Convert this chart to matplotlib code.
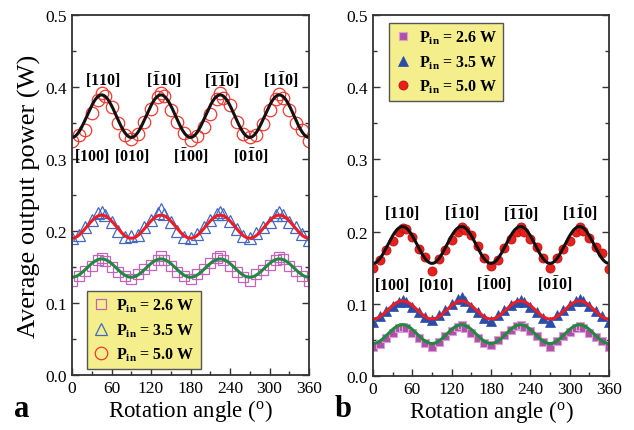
import numpy as np
import matplotlib
matplotlib.use("Agg")
import matplotlib.pyplot as plt
from matplotlib.ticker import MultipleLocator

plt.rcParams['font.family'] = ['Liberation Serif', 'DejaVu Serif']
plt.rcParams['mathtext.fontset'] = 'custom'
plt.rcParams['mathtext.rm'] = 'Liberation Serif'
plt.rcParams['mathtext.bf'] = 'Liberation Serif:bold'
plt.rcParams['mathtext.it'] = 'Liberation Serif:italic'

# ---------------- data ----------------
angles = [0, 10, 20, 30, 40, 45, 50, 60, 70, 80,
          90, 100, 110, 120, 130, 135, 140, 150, 160, 170,
          180, 190, 200, 210, 220, 225, 230, 240, 250, 260,
          270, 280, 290, 300, 310, 315, 320, 330, 340, 350, 360]

series_labels = ['2.6', '3.5', '5.0']

# panel a
a_p26 = [0.130, 0.138, 0.145, 0.152, 0.160, 0.163, 0.158, 0.150, 0.143, 0.138,
         0.133, 0.140, 0.147, 0.153, 0.160, 0.165, 0.160, 0.152, 0.143, 0.137,
         0.133, 0.140, 0.147, 0.155, 0.163, 0.165, 0.160, 0.152, 0.143, 0.136,
         0.131, 0.140, 0.146, 0.153, 0.160, 0.164, 0.161, 0.152, 0.145, 0.138, 0.130]
a_p35 = [0.190, 0.195, 0.205, 0.215, 0.225, 0.226, 0.222, 0.212, 0.200, 0.192,
         0.193, 0.195, 0.205, 0.215, 0.225, 0.230, 0.224, 0.213, 0.200, 0.192,
         0.190, 0.196, 0.205, 0.215, 0.223, 0.226, 0.224, 0.214, 0.203, 0.193,
         0.190, 0.197, 0.206, 0.212, 0.222, 0.226, 0.222, 0.212, 0.205, 0.196, 0.188]
a_p50 = [0.325, 0.333, 0.340, 0.364, 0.382, 0.392, 0.388, 0.372, 0.350, 0.333,
         0.328, 0.335, 0.352, 0.370, 0.386, 0.391, 0.388, 0.368, 0.352, 0.336,
         0.327, 0.332, 0.345, 0.362, 0.383, 0.392, 0.385, 0.375, 0.352, 0.335,
         0.330, 0.333, 0.348, 0.368, 0.383, 0.390, 0.385, 0.368, 0.350, 0.340, 0.325]

# panel b
b_p26 = [0.040, 0.045, 0.053, 0.060, 0.066, 0.068, 0.066, 0.060, 0.053, 0.046,
         0.040, 0.047, 0.055, 0.062, 0.068, 0.070, 0.067, 0.060, 0.052, 0.046,
         0.043, 0.050, 0.057, 0.064, 0.069, 0.071, 0.068, 0.062, 0.055, 0.047,
         0.040, 0.048, 0.055, 0.061, 0.067, 0.069, 0.066, 0.060, 0.054, 0.048, 0.040]
b_p35 = [0.075, 0.083, 0.090, 0.097, 0.103, 0.105, 0.102, 0.096, 0.088, 0.082,
         0.078, 0.084, 0.092, 0.100, 0.107, 0.109, 0.104, 0.096, 0.088, 0.080,
         0.076, 0.085, 0.092, 0.098, 0.103, 0.105, 0.102, 0.096, 0.088, 0.081,
         0.075, 0.084, 0.092, 0.099, 0.104, 0.106, 0.104, 0.097, 0.090, 0.083, 0.075]
b_p50 = [0.150, 0.160, 0.175, 0.187, 0.200, 0.205, 0.203, 0.192, 0.176, 0.165,
         0.146, 0.162, 0.175, 0.188, 0.200, 0.207, 0.202, 0.195, 0.180, 0.163,
         0.152, 0.160, 0.177, 0.190, 0.200, 0.206, 0.200, 0.190, 0.178, 0.163,
         0.150, 0.164, 0.176, 0.187, 0.200, 0.206, 0.201, 0.191, 0.178, 0.170, 0.148]

# fitted cos(4*theta) models: (offset, amplitude)
a_fit = {'2.6': (0.1485, 0.0127), '3.5': (0.206, 0.016), '5.0': (0.3595, 0.0295)}
b_fit = {'2.6': (0.058, 0.013), '3.5': (0.0915, 0.0125), '5.0': (0.1815, 0.0255)}

top_labels = [r'$\mathbf{[110]}$', r'$\mathbf{[\bar{1}10]}$',
              r'$\mathbf{[\overline{11}0]}$', r'$\mathbf{[1\bar{1}0]}$']
bot_labels = [r'$\mathbf{[100]}$', r'$\mathbf{[010]}$',
              r'$\mathbf{[\bar{1}00]}$', r'$\mathbf{[0\bar{1}0]}$']
a_top_x = [47, 139, 228, 317]
a_bot_x = [30, 91, 181, 272]
b_top_x = [44, 136, 226, 316]
b_bot_x = [28, 95, 184, 277]

# ---------------- figure ----------------
fig = plt.figure(figsize=(6.34, 4.31), dpi=100)
axa = fig.add_axes([72/634, 55/431, 237/634, 360/431])
axb = fig.add_axes([373/634, 54/431, 236/634, 361/431])

sq_col = '#C462BC'
tri_col = '#4469C0'
circ_col = '#EE3A32'
fit_cols = {'2.6': '#1E8B3E', '3.5': '#EE1C24', '5.0': '#111111'}

th = np.linspace(0, 360, 721)

def fit_curve(p):
    off, amp = p
    return off - amp * np.cos(np.deg2rad(4 * th))

# panel a
h1, = axa.plot(angles, a_p26, ls='none', marker='s', ms=7.5, mfc='none', mec=sq_col, mew=0.9)
h2, = axa.plot(angles, a_p35, ls='none', marker='^', ms=9, mfc='none', mec=tri_col, mew=0.9)
h3, = axa.plot(angles, a_p50, ls='none', marker='o', ms=9, mfc='none', mec=circ_col, mew=0.9)
for k in series_labels:
    axa.plot(th, fit_curve(a_fit[k]), color=fit_cols[k], lw=2.2)

# panel b
g1, = axb.plot(angles, b_p26, ls='none', marker='s', ms=6, mfc='#B04FA8', mec='#D9A0D4', mew=0.8)
g2, = axb.plot(angles, b_p35, ls='none', marker='^', ms=7, mfc='#2A4DA8', mec='#2A4DA8', mew=0.5)
g3, = axb.plot(angles, b_p50, ls='none', marker='o', ms=6.5, mfc='#E8201C', mec='#C01010', mew=0.6)
for k in series_labels:
    axb.plot(th, fit_curve(b_fit[k]), color=fit_cols[k], lw=2.2)

label_texts = [r'$\mathbf{P_{in}}$ = %s W' % s for s in series_labels]

for ax in (axa, axb):
    ax.set_xlim(0, 360)
    ax.set_ylim(0, 0.5)
    ax.xaxis.set_major_locator(MultipleLocator(60))
    ax.xaxis.set_minor_locator(MultipleLocator(30))
    ax.yaxis.set_major_locator(MultipleLocator(0.1))
    ax.yaxis.set_minor_locator(MultipleLocator(0.05))
    ax.tick_params(which='both', direction='in', top=False, right=True, labelsize=12.5,
                   color='#333333')
    ax.tick_params(which='major', length=5, width=1.0)
    ax.tick_params(which='minor', length=3, width=1.0)
    ax.set_yticks([0, 0.1, 0.2, 0.3, 0.4, 0.5])
    ax.set_yticklabels(['0.0', '0.1', '0.2', '0.3', '0.4', '0.5'])
    for sp in ax.spines.values():
        sp.set_linewidth(1.3)
        sp.set_color('#333333')
    ax.set_xlabel(r'Rotation angle ($^\mathrm{o}$)', fontsize=16.5, labelpad=1)

axa.set_ylabel('Average output power (W)', fontsize=19, labelpad=3)

for x, t in zip(a_top_x, top_labels):
    axa.text(x, 0.411, t, ha='center', va='center', fontsize=11.5)
for x, t in zip(a_bot_x, bot_labels):
    axa.text(x, 0.3056, t, ha='center', va='center', fontsize=11.5)
for x, t in zip(b_top_x, top_labels):
    axb.text(x, 0.2267, t, ha='center', va='center', fontsize=11.5)
for x, t in zip(b_bot_x, bot_labels):
    axb.text(x, 0.128, t, ha='center', va='center', fontsize=11.5)

leg_kw = dict(frameon=True, fancybox=False, facecolor='#F4EE8C', edgecolor='#555555',
              framealpha=1, prop={'weight': 'bold', 'size': 11.5}, handletextpad=0.5,
              borderpad=0.35, labelspacing=0.45, handlelength=1.0, borderaxespad=0)
lga = axa.legend([h1, h2, h3], label_texts, loc='lower left',
                 bbox_to_anchor=(0.063, 0.017), **leg_kw)
lgb = axb.legend([g1, g2, g3], label_texts, loc='upper left',
                 bbox_to_anchor=(0.068, 0.978), **leg_kw)
for lg in (lga, lgb):
    lg.get_frame().set_linewidth(1.0)

fig.text(22/634, 1 - 410/431, 'a', fontsize=22, fontweight='bold', ha='center', va='center')
fig.text(343/634, 1 - 410/431, 'b', fontsize=22, fontweight='bold', ha='center', va='center')

fig.savefig('out.png', dpi=100)
